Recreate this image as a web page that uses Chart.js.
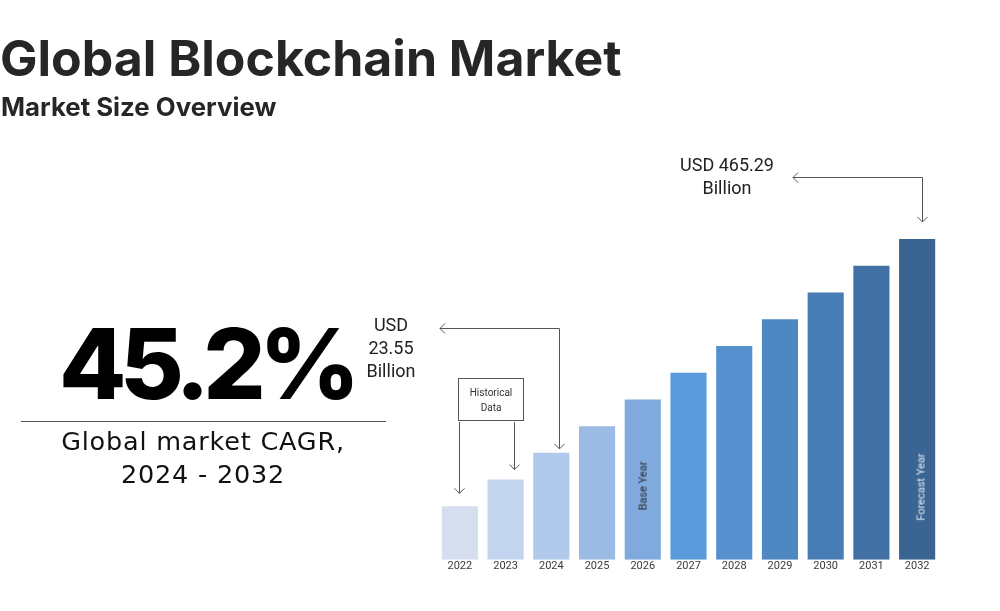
<!DOCTYPE html>
<html>
<head>
<meta charset="utf-8">
<script src="https://cdn.jsdelivr.net/npm/chart.js@4.4.1/dist/chart.umd.min.js"></script>
<style>
  html, body { margin:0; padding:0; background:#fff; width:1000px; height:611px; overflow:hidden; }
  #wrap { position:relative; width:1000px; height:611px; }
  #c { position:absolute; left:0; top:0; }
  .t { position:absolute; white-space:nowrap; }
  #title { left:0; top:30px; font-family:Inter, sans-serif; font-weight:700; font-size:50px; color:#262626; letter-spacing:0; line-height:56px; }
  #subtitle { left:1px; top:92px; font-family:Inter, sans-serif; font-weight:700; font-size:25.8px; color:#262626; letter-spacing:0; line-height:30px; }
  #cagr { left:59px; top:309px; font-family:Inter, sans-serif; font-weight:800; font-size:98px; color:#000; letter-spacing:-6.5px; line-height:110px; }
  #rule { position:absolute; left:21px; top:421px; width:365px; height:1px; background:#555; }
  #cagrlbl { left:20px; top:425px; width:366px; text-align:center; font-family:"DejaVu Sans", sans-serif; font-weight:400; font-size:25.5px; letter-spacing:0.8px; color:#111; line-height:33px; white-space:normal; }
  #usd1 { left:356px; top:313px; width:70px; text-align:center; font-family:Roboto, sans-serif; font-size:18px; color:#222; line-height:23px; white-space:normal; }
  #usd2 { left:657px; top:153px; width:140px; text-align:center; font-family:Roboto, sans-serif; font-size:18px; color:#222; line-height:23px; white-space:normal; }
  #hist { left:458px; top:378px; width:66px; height:43px; border:1px solid #555; box-sizing:border-box; text-align:center; font-family:Roboto, sans-serif; font-size:10px; color:#333; line-height:15px; padding-top:6px; white-space:normal; }
  .rot { position:absolute; font-family:Roboto, sans-serif; font-size:11px; white-space:nowrap; transform:translate(-50%,-50%) rotate(-90deg); }
</style>
</head>
<body>
<div id="wrap">
  <canvas id="c" width="1000" height="611"></canvas>
  <div class="t" id="title">Global Blockchain Market</div>
  <div class="t" id="subtitle">Market Size Overview</div>
  <div class="t" id="cagr">45.2%</div>
  <div id="rule"></div>
  <div class="t" id="cagrlbl">Global market CAGR,<br>2024 - 2032</div>
  <div class="t" id="usd1">USD<br>23.55<br>Billion</div>
  <div class="t" id="usd2">USD 465.29<br>Billion</div>
  <div class="t" id="hist">Historical<br>Data</div>
  <div class="rot" id="baseYear" style="color:#2a2a2a;">Base Year</div>
  <div class="rot" id="fcYear" style="color:#dfe8f3;">Forecast Year</div>
</div>
<script>
// Categories (years)
const years = ['2022','2023','2024','2025','2026','2027','2028','2029','2030','2031','2032'];
// Bar heights as drawn in the picture (relative units; the bars are schematic)
const barHeights = [2, 3, 4, 5, 6, 7, 8, 9, 10, 11, 12];
// Bar colours, light to dark blue
const barColors = ['#d4deee','#c3d5ee','#b1c9eb','#9bbbe5','#80aade','#5b9bdb','#5690cf','#4f87c2','#487cb4','#4171a4','#3a6492'];
// Annotated market values
const startValueLabel = 'USD 23.55 Billion';   // 2024
const endValueLabel = 'USD 465.29 Billion';    // 2032
const cagrLabel = '45.2%';

function arrowHead(ctx, x, y, dir, s) {
  ctx.beginPath();
  if (dir === 'down') { ctx.moveTo(x - s, y - s); ctx.lineTo(x, y); ctx.lineTo(x + s, y - s); }
  else if (dir === 'left') { ctx.moveTo(x + s, y - s); ctx.lineTo(x, y); ctx.lineTo(x + s, y + s); }
  ctx.stroke();
}

const connectors = {
  id: 'connectors',
  afterDraw(chart) {
    const ctx = chart.ctx;
    const xs = chart.scales.x, ys = chart.scales.y;
    const px = i => xs.getPixelForValue(i);
    const top = i => ys.getPixelForValue(barHeights[i]);
    ctx.save();
    ctx.strokeStyle = '#555';
    ctx.lineWidth = 1;
    // 2032 -> USD 465.29
    let x = Math.round(px(10) + 5) + 0.5, yTop = 177.5, tip = top(10) - 17;
    ctx.beginPath(); ctx.moveTo(x, tip); ctx.lineTo(x, yTop); ctx.lineTo(793, yTop); ctx.stroke();
    arrowHead(ctx, x, tip, 'down', 5); arrowHead(ctx, 793, yTop, 'left', 5);
    // 2024 -> USD 23.55
    x = Math.round(px(2) + 8) + 0.5; yTop = 328.5; tip = top(2) - 4;
    ctx.beginPath(); ctx.moveTo(x, tip); ctx.lineTo(x, yTop); ctx.lineTo(440, yTop); ctx.stroke();
    arrowHead(ctx, x, tip, 'down', 5); arrowHead(ctx, 440, yTop, 'left', 5);
    // Historical Data box -> 2022, 2023
    x = Math.round(px(0) - 1) + 0.5; tip = top(0) - 13;
    ctx.beginPath(); ctx.moveTo(x, 422); ctx.lineTo(x, tip); ctx.stroke();
    arrowHead(ctx, x, tip, 'down', 5);
    x = Math.round(px(1) + 8) + 0.5; tip = top(1) - 10;
    ctx.beginPath(); ctx.moveTo(x, 422); ctx.lineTo(x, tip); ctx.stroke();
    arrowHead(ctx, x, tip, 'down', 5);
    ctx.restore();
  }
};

const chart = new Chart(document.getElementById('c'), {
  type: 'bar',
  data: {
    labels: years,
    datasets: [{
      data: barHeights,
      backgroundColor: barColors,
      borderWidth: 0,
      barPercentage: 0.79,
      categoryPercentage: 1.0
    }]
  },
  options: {
    responsive: false,
    animation: false,
    devicePixelRatio: 1,
    layout: { padding: { left: 437, right: 60, top: 239, bottom: 38 } },
    plugins: { legend: { display: false }, tooltip: { enabled: false }, title: { display: false } },
    scales: {
      x: {
        grid: { display: false, drawTicks: false },
        border: { display: false },
        ticks: { color: '#3a3a3a', font: { family: 'Roboto', size: 11 }, padding: 0 }
      },
      y: { display: false, min: 0, max: 12 }
    }
  },
  plugins: [connectors]
});

// place rotated bar labels from the scales
(function placeRot() {
  const xs = chart.scales.x;
  const by = document.getElementById('baseYear');
  by.style.left = xs.getPixelForValue(4) + 'px';
  by.style.top = '486px';
  const fy = document.getElementById('fcYear');
  fy.style.left = (xs.getPixelForValue(10) + 4) + 'px';
  fy.style.top = '487px';
})();
</script>
</body>
</html>
